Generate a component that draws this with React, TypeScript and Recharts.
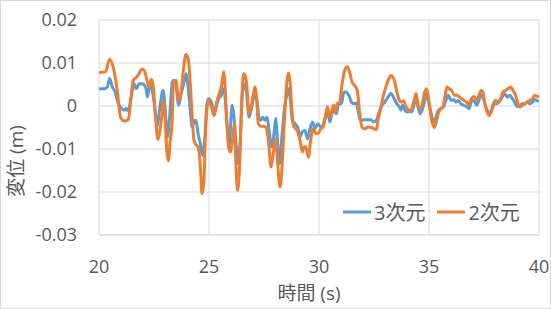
import React from 'react';
import { LineChart, Line, XAxis, YAxis, CartesianGrid, Legend } from 'recharts';

const seriesNames = ['3次元', '2次元'];
const xTicks = [20, 25, 30, 35, 40];
const yTicks = [-0.03, -0.02, -0.01, 0, 0.01, 0.02];

const time3 = [
  20.0, 20.23, 20.38, 20.48, 20.61, 20.73, 20.88, 21.03, 21.14, 21.24, 21.33, 21.44, 21.59, 21.7, 21.82, 21.97,
  22.12, 22.2, 22.3, 22.42, 22.53, 22.65, 22.77, 22.91, 23.0, 23.11, 23.21, 23.33, 23.39, 23.5, 23.62, 23.74,
  23.85, 23.95, 24.05, 24.15, 24.23, 24.32, 24.41, 24.5, 24.61, 24.71, 24.8, 24.91, 24.98, 25.11, 25.23, 25.33,
  25.44, 25.56, 25.62, 25.71, 25.82, 25.92, 26.05, 26.12, 26.23, 26.3, 26.42, 26.53, 26.62, 26.71, 26.82, 26.91,
  27.02, 27.09, 27.17, 27.27, 27.36, 27.44, 27.55, 27.64, 27.73, 27.85, 27.97, 28.03, 28.11, 28.21, 28.3, 28.42,
  28.53, 28.61, 28.7, 28.79, 28.91, 29.03, 29.14, 29.24, 29.36, 29.48, 29.59, 29.71, 29.82, 29.94, 30.08, 30.18,
  30.29, 30.38, 30.49, 30.59, 30.68, 30.79, 30.89, 31.02, 31.11, 31.2, 31.29, 31.39, 31.47, 31.59, 31.7, 31.77,
  31.89, 32.05, 32.2, 32.35, 32.5, 32.61, 32.71, 32.83, 32.99, 33.14, 33.27, 33.42, 33.54, 33.65, 33.72, 33.8,
  33.91, 34.0, 34.1, 34.21, 34.33, 34.41, 34.48, 34.6, 34.71, 34.82, 34.89, 34.98, 35.09, 35.19, 35.32, 35.42,
  35.54, 35.66, 35.77, 35.88, 36.0, 36.12, 36.23, 36.33, 36.45, 36.57, 36.71, 36.82, 36.92, 37.04, 37.17, 37.27,
  37.38, 37.47, 37.58, 37.68, 37.77, 37.88, 37.98, 38.1, 38.23, 38.33, 38.44, 38.56, 38.68, 38.79, 38.89, 39.01,
  39.14, 39.24, 39.35, 39.47, 39.59, 39.7, 39.8, 39.92, 40.0,
];
const disp3 = [
  0.004, 0.004, 0.0044, 0.0064, 0.0044, 0.0033, 0.0005, -0.0006, -0.001, -0.0006, -0.0012, 0.0013, 0.0052, 0.004, 0.0052, 0.0052,
  0.0044, 0.0021, 0.0048, 0.0036, -0.0002, -0.0045, -0.0002, 0.0036, -0.0002, -0.0072, -0.0026, 0.0056, 0.006, 0.0048, 0.0002, 0.0029,
  0.0052, 0.0075, 0.0044, -0.001, -0.0049, -0.0037, -0.0033, -0.0064, -0.0088, -0.0115, -0.008, 0.0005, 0.0017, 0.0009, -0.0022, -0.0002,
  0.0017, 0.0025, 0.004, 0.0029, -0.0041, -0.0088, 0.0002, -0.0018, -0.0088, -0.0134, -0.008, 0.0036, 0.0052, 0.0029, -0.0026, -0.001,
  0.0017, 0.0029, 0.0017, -0.0026, -0.0033, -0.0026, -0.0033, -0.0026, -0.0057, -0.0095, -0.0057, -0.0029, -0.008, -0.0134, -0.008, -0.001,
  0.0025, 0.004, 0.0013, -0.0033, -0.0041, -0.0049, -0.0072, -0.006, -0.0057, -0.0076, -0.0053, -0.0037, -0.0053, -0.0041, -0.0049, -0.0045,
  -0.0026, -0.001, -0.0037, -0.0018, -0.001, -0.0018, 0.0005, 0.0005, 0.0029, 0.0033, 0.003, 0.0021, 0.0009, 0.0005, 0.0007, -0.001,
  -0.0033, -0.0032, -0.0032, -0.0032, -0.0037, -0.0033, -0.0018, -0.0002, 0.0009, 0.0021, 0.0029, 0.0017, 0.0005, -0.0002, -0.001, 0.0002,
  -0.001, -0.0014, -0.0012, -0.0014, 0.0005, 0.0021, 0.0002, -0.0018, -0.0006, 0.0017, 0.0029, 0.0009, -0.0014, -0.0037, -0.0026, -0.001,
  -0.0006, -0.0002, 0.0013, 0.0025, 0.0013, 0.0015, 0.0009, 0.0013, 0.0005, 0.0002, -0.0002, -0.0006, 0.0009, 0.0013, 0.0002, 0.0013,
  0.0025, 0.0017, -0.0002, -0.0014, -0.0018, -0.0006, 0.0005, 0.0005, 0.0013, 0.0021, 0.0029, 0.0021, 0.0025, 0.0017, 0.0009, -0.0002,
  0.0002, 0.0005, 0.0005, 0.0009, 0.0005, 0.0009, 0.0015, 0.0012, 0.0011,
];

const time2 = [
  20.0, 20.3, 20.48, 20.68, 20.83, 20.98, 21.14, 21.33, 21.44, 21.56, 21.7, 21.82, 21.94, 22.05, 22.2, 22.27,
  22.38, 22.47, 22.58, 22.68, 22.77, 22.88, 22.92, 23.0, 23.08, 23.15, 23.24, 23.32, 23.39, 23.5, 23.62, 23.74,
  23.85, 23.95, 24.05, 24.15, 24.23, 24.32, 24.41, 24.5, 24.61, 24.68, 24.77, 24.83, 24.91, 24.98, 25.11, 25.23,
  25.33, 25.44, 25.56, 25.67, 25.74, 25.82, 25.89, 25.97, 26.08, 26.15, 26.24, 26.3, 26.39, 26.5, 26.58, 26.64,
  26.71, 26.82, 26.91, 27.02, 27.09, 27.17, 27.24, 27.36, 27.47, 27.58, 27.7, 27.82, 27.92, 28.03, 28.11, 28.23,
  28.3, 28.42, 28.53, 28.61, 28.68, 28.76, 28.83, 28.94, 29.03, 29.14, 29.24, 29.33, 29.39, 29.52, 29.62, 29.74,
  29.86, 29.96, 30.08, 30.18, 30.29, 30.38, 30.49, 30.59, 30.67, 30.74, 30.83, 30.94, 31.05, 31.17, 31.29, 31.39,
  31.5, 31.62, 31.74, 31.85, 31.96, 32.08, 32.23, 32.38, 32.5, 32.61, 32.68, 32.8, 32.91, 33.06, 33.21, 33.27,
  33.42, 33.54, 33.65, 33.75, 33.85, 33.95, 34.06, 34.18, 34.3, 34.41, 34.48, 34.56, 34.66, 34.79, 34.88, 34.97,
  35.06, 35.16, 35.24, 35.35, 35.44, 35.54, 35.63, 35.72, 35.82, 35.92, 36.03, 36.15, 36.27, 36.38, 36.48, 36.59,
  36.71, 36.82, 36.92, 37.04, 37.17, 37.27, 37.38, 37.47, 37.53, 37.62, 37.73, 37.83, 37.92, 38.03, 38.15, 38.26,
  38.36, 38.48, 38.59, 38.71, 38.82, 38.94, 39.04, 39.14, 39.24, 39.35, 39.47, 39.59, 39.7, 39.8, 39.89, 40.0,
];
const disp2 = [
  0.0078, 0.008, 0.0109, 0.0083, 0.0036, -0.0026, -0.0035, -0.0032, 0.0013, 0.006, 0.0067, 0.0075, 0.0086, 0.0083, 0.0056, 0.0044,
  0.0062, 0.0044, -0.0033, -0.0078, -0.0057, -0.001, 0.0013, -0.0026, -0.0102, -0.0128, -0.008, -0.0041, 0.0056, 0.006, 0.0013, 0.0036,
  0.009, 0.012, 0.011, 0.0052, -0.0018, -0.008, -0.009, -0.0095, -0.0142, -0.0204, -0.0173, -0.008, -0.0002, 0.0013, -0.0002, -0.0022,
  0.0005, 0.0025, 0.0044, 0.0079, 0.0036, -0.0049, -0.0095, -0.0107, -0.0072, -0.0041, -0.0157, -0.0196, -0.0141, 0.0029, 0.0075, 0.0071,
  0.0052, -0.0018, -0.0002, 0.0029, 0.0044, 0.0013, -0.0041, -0.0047, -0.0047, -0.0049, -0.008, -0.0142, -0.0111, -0.0076, -0.0126, -0.0188,
  -0.0157, -0.0041, 0.0052, 0.0077, 0.006, -0.0002, -0.0045, -0.0053, -0.006, -0.008, -0.0107, -0.0095, -0.0094, -0.0119, -0.008, -0.0053,
  -0.0064, -0.0064, -0.0053, -0.005, -0.0026, -0.0002, -0.0026, -0.001, 0.0002, -0.0014, 0.0005, 0.0009, 0.0052, 0.0083, 0.0091, 0.0079,
  0.0056, 0.0048, 0.0036, -0.0018, -0.005, -0.0053, -0.0049, -0.005, -0.0053, -0.0055, -0.0033, -0.0006, 0.0021, 0.0048, 0.0067, 0.0071,
  0.006, 0.0033, 0.0013, 0.0009, 0.0012, -0.0002, -0.0008, -0.001, 0.0009, 0.0029, 0.0009, -0.0006, -0.0002, 0.0029, 0.004, 0.0021,
  -0.0014, -0.0041, -0.005, -0.0033, -0.0014, -0.0006, -0.0002, 0.0021, 0.0044, 0.004, 0.0036, 0.0025, 0.0025, 0.0021, 0.0017, 0.0013,
  0.0009, 0.0002, 0.0017, 0.0022, 0.0013, 0.0025, 0.0036, 0.0029, 0.0009, -0.001, -0.0022, -0.001, 0.0005, 0.0013, 0.0009, 0.0017,
  0.0033, 0.0036, 0.004, 0.0044, 0.0036, 0.0025, 0.0005, -0.0002, 0.0002, 0.0005, 0.0009, 0.0013, 0.0017, 0.0025, 0.0023, 0.0021,
];

const data3 = time3.map((t, i) => ({ t, v: disp3[i] }));
const data2 = time2.map((t, i) => ({ t, v: disp2[i] }));

const FONT = '"Open Sans", "Noto Sans CJK JP", sans-serif';
const TEXT = '#595959';
const BLUE = '#5B9BD5';
const ORANGE = '#ED7D31';

const fmtY = (v: number) => (Math.abs(v) < 1e-9 ? '0' : v.toFixed(2));

const LegendContent = () => (
  <div style={{ display: 'flex', alignItems: 'center', fontFamily: FONT, fontSize: 20, color: TEXT, whiteSpace: 'nowrap' }}>
    <svg width={28} height={6} style={{ marginRight: 3 }}>
      <line x1={0} y1={3} x2={28} y2={3} stroke={BLUE} strokeWidth={3} />
    </svg>
    <span>{seriesNames[0]}</span>
    <svg width={28} height={6} style={{ marginLeft: 12, marginRight: 3 }}>
      <line x1={0} y1={3} x2={28} y2={3} stroke={ORANGE} strokeWidth={3} />
    </svg>
    <span>{seriesNames[1]}</span>
  </div>
);

const XTitle = (props: any) => {
  const vb = props.viewBox || {};
  return (
    <text x={vb.x + vb.width / 2 - 10} y={vb.y + 65} textAnchor="middle" fontFamily={FONT} fontSize={19} fill={TEXT}>
      時間 (s)
    </text>
  );
};

const YTitle = () => {
  const cx = 16;
  const cy = 161;
  return (
    <text x={cx} y={cy} transform={`rotate(-90 ${cx} ${cy})`} textAnchor="middle" dominantBaseline="central" fontFamily={FONT} fontSize={19} fill={TEXT}>
      変位 (m)
    </text>
  );
};

export default function App() {
  return (
    <div style={{ position: 'absolute', left: 0, top: 0, width: 551, height: 309, background: '#fff' }}>
      <LineChart width={551} height={309} margin={{ top: 20, right: 12, bottom: 0, left: 0 }}>
        <CartesianGrid stroke="#d9d9d9" strokeWidth={1} horizontalValues={yTicks} verticalValues={xTicks} />
        <XAxis
          dataKey="t"
          type="number"
          domain={[20, 40]}
          ticks={xTicks}
          allowDataOverflow
          axisLine={{ stroke: '#d9d9d9' }}
          tickLine={false}
          tickSize={0}
          tickMargin={25}
          height={74}
          tick={{ fill: TEXT, fontSize: 18, fontFamily: FONT }}
          label={<XTitle />}
        />
        <YAxis
          type="number"
          domain={[-0.03, 0.02]}
          ticks={yTicks}
          allowDataOverflow
          axisLine={false}
          tickLine={false}
          tickSize={0}
          tickMargin={22}
          width={99}
          tickFormatter={fmtY}
          tick={{ fill: TEXT, fontSize: 18, fontFamily: FONT }}
          label={<YTitle />}
        />
        <Legend
          layout="horizontal"
          verticalAlign="middle"
          align="center"
          content={<LegendContent />}
          wrapperStyle={{ position: 'absolute', left: 343, top: 197, width: 'auto', height: 'auto' }}
        />
        <Line data={data3} dataKey="v" name={seriesNames[0]} type="monotone" stroke={BLUE} strokeWidth={3} dot={false} isAnimationActive={false} />
        <Line data={data2} dataKey="v" name={seriesNames[1]} type="monotone" stroke={ORANGE} strokeWidth={3} dot={false} isAnimationActive={false} />
      </LineChart>
      <div style={{ position: 'absolute', left: 0, top: 0, width: 549, height: 307, border: '1px solid #d9d9d9', pointerEvents: 'none' }} />
    </div>
  );
}
